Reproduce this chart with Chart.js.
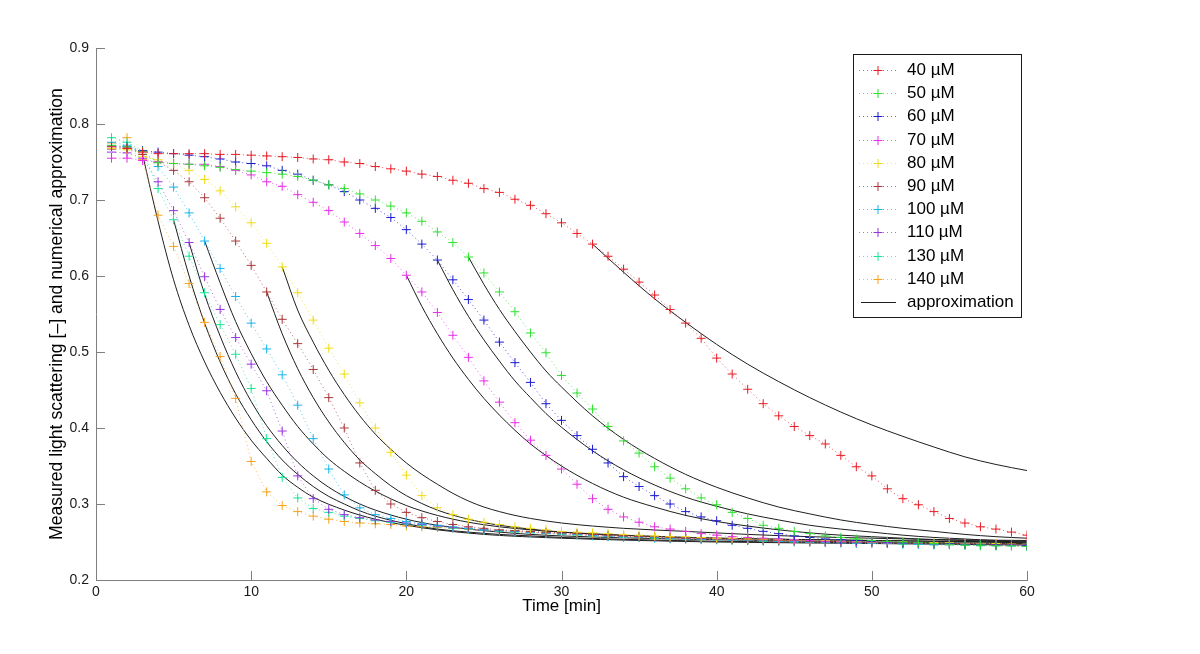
<!DOCTYPE html>
<html><head><meta charset="utf-8">
<script src="https://cdn.jsdelivr.net/npm/chart.js@4.4.1/dist/chart.umd.min.js"></script>
<style>html,body{margin:0;padding:0;background:#fff}#wrap{width:1200px;height:654px;position:relative}</style>
</head><body><div id="wrap"><canvas id="c" width="1200" height="654"></canvas></div>
<script>
const times = [1,2,3,4,5,6,7,8,9,10,11,12,13,14,15,16,17,18,19,20,21,22,23,24,25,26,27,28,29,30,31,32,33,34,35,36,37,38,39,40,41,42,43,44,45,46,47,48,49,50,51,52,53,54,55,56,57,58,59,60];
const seriesLabels = ['40 µM','50 µM','60 µM','70 µM','80 µM','90 µM','100 µM','110 µM','130 µM','140 µM'];
const approxLabel = 'approximation';
const xTicks = [0,10,20,30,40,50,60];
const yTicks = [0.2,0.3,0.4,0.5,0.6,0.7,0.8,0.9];

const s40 = [0.770,0.768,0.763,0.761,0.761,0.761,0.761,0.760,0.760,0.759,0.758,0.757,0.756,0.754,0.753,0.750,0.748,0.744,0.741,0.738,0.734,0.731,0.726,0.722,0.715,0.710,0.701,0.693,0.682,0.670,0.656,0.642,0.626,0.609,0.592,0.575,0.556,0.538,0.518,0.492,0.471,0.451,0.432,0.416,0.402,0.390,0.379,0.364,0.349,0.337,0.320,0.307,0.299,0.290,0.281,0.275,0.270,0.267,0.263,0.259];
const s50 = [0.772,0.770,0.764,0.749,0.748,0.747,0.745,0.743,0.740,0.738,0.736,0.734,0.731,0.726,0.720,0.715,0.708,0.700,0.692,0.683,0.672,0.658,0.644,0.625,0.604,0.579,0.553,0.525,0.499,0.469,0.446,0.425,0.402,0.383,0.367,0.349,0.334,0.320,0.308,0.299,0.289,0.281,0.272,0.268,0.264,0.261,0.258,0.256,0.254,0.252,0.251,0.250,0.249,0.248,0.247,0.246,0.246,0.245,0.245,0.244];
const s60 = [0.771,0.770,0.765,0.763,0.761,0.759,0.757,0.754,0.750,0.748,0.745,0.739,0.734,0.726,0.720,0.711,0.700,0.689,0.677,0.661,0.642,0.621,0.595,0.569,0.542,0.513,0.486,0.460,0.432,0.410,0.390,0.372,0.354,0.336,0.323,0.311,0.300,0.290,0.283,0.278,0.272,0.268,0.264,0.261,0.258,0.256,0.254,0.253,0.252,0.251,0.250,0.249,0.249,0.248,0.248,0.247,0.247,0.246,0.246,0.246];
const s70 = [0.755,0.755,0.752,0.750,0.748,0.747,0.747,0.744,0.739,0.733,0.724,0.718,0.707,0.697,0.686,0.671,0.656,0.640,0.623,0.601,0.579,0.552,0.522,0.493,0.462,0.434,0.407,0.384,0.364,0.346,0.326,0.307,0.293,0.283,0.276,0.270,0.267,0.264,0.261,0.259,0.257,0.256,0.255,0.254,0.253,0.252,0.251,0.251,0.250,0.250,0.249,0.249,0.248,0.248,0.247,0.247,0.247,0.246,0.246,0.246];
const s80 = [0.768,0.766,0.757,0.753,0.748,0.739,0.727,0.712,0.691,0.670,0.643,0.612,0.578,0.542,0.505,0.471,0.433,0.400,0.368,0.338,0.311,0.295,0.286,0.280,0.276,0.273,0.270,0.268,0.266,0.264,0.263,0.262,0.261,0.260,0.259,0.258,0.257,0.257,0.256,0.255,0.255,0.254,0.254,0.253,0.253,0.252,0.252,0.251,0.251,0.250,0.250,0.250,0.249,0.249,0.249,0.248,0.248,0.248,0.247,0.247];
const s90 = [0.767,0.768,0.760,0.750,0.739,0.724,0.703,0.676,0.646,0.614,0.579,0.543,0.511,0.477,0.440,0.400,0.354,0.318,0.300,0.289,0.282,0.277,0.273,0.270,0.268,0.266,0.265,0.264,0.263,0.262,0.261,0.260,0.259,0.258,0.257,0.257,0.256,0.255,0.255,0.254,0.254,0.253,0.253,0.252,0.252,0.251,0.251,0.250,0.250,0.250,0.249,0.249,0.249,0.248,0.248,0.248,0.247,0.247,0.247,0.246];
const s100 = [0.776,0.772,0.760,0.744,0.717,0.683,0.646,0.610,0.573,0.538,0.504,0.470,0.430,0.386,0.346,0.312,0.295,0.286,0.281,0.277,0.274,0.272,0.270,0.268,0.266,0.265,0.264,0.263,0.262,0.261,0.260,0.259,0.258,0.257,0.256,0.256,0.255,0.254,0.254,0.253,0.253,0.252,0.252,0.251,0.251,0.250,0.250,0.249,0.249,0.249,0.248,0.248,0.247,0.247,0.247,0.246,0.246,0.246,0.245,0.245];
const s110 = [0.763,0.762,0.755,0.724,0.686,0.644,0.599,0.556,0.519,0.484,0.449,0.396,0.337,0.307,0.293,0.286,0.282,0.279,0.277,0.275,0.273,0.271,0.269,0.268,0.266,0.265,0.264,0.263,0.262,0.261,0.260,0.259,0.258,0.257,0.257,0.256,0.255,0.255,0.254,0.254,0.253,0.253,0.252,0.252,0.251,0.251,0.250,0.250,0.249,0.249,0.249,0.248,0.248,0.247,0.247,0.247,0.246,0.246,0.246,0.245];
const s130 = [0.782,0.776,0.765,0.715,0.674,0.626,0.578,0.536,0.497,0.452,0.386,0.335,0.308,0.294,0.289,0.284,0.281,0.278,0.276,0.274,0.272,0.270,0.268,0.267,0.265,0.264,0.263,0.262,0.261,0.260,0.259,0.258,0.257,0.256,0.256,0.255,0.254,0.254,0.253,0.253,0.252,0.252,0.251,0.251,0.250,0.250,0.249,0.249,0.248,0.248,0.248,0.247,0.247,0.246,0.246,0.246,0.245,0.245,0.245,0.244];
const s140 = [0.775,0.782,0.753,0.680,0.639,0.590,0.539,0.494,0.439,0.356,0.316,0.298,0.290,0.284,0.280,0.277,0.275,0.274,0.273,0.271,0.270,0.269,0.268,0.267,0.266,0.265,0.264,0.263,0.262,0.261,0.260,0.259,0.258,0.258,0.257,0.256,0.256,0.255,0.255,0.254,0.254,0.253,0.253,0.252,0.252,0.252,0.251,0.251,0.250,0.250,0.250,0.249,0.249,0.249,0.248,0.248,0.248,0.247,0.247,0.247];

const a40t = [32,34,36,38,40,42,44,46,48,50,52,54,56,58,60];
const a40v = [0.642,0.605,0.570,0.539,0.510,0.484,0.461,0.440,0.421,0.404,0.389,0.375,0.362,0.352,0.344];
const a50t = [24,25,26,27,28,29,30,32,34,36,38,40,42,44,46,48,50,52,54,56,58,60];
const a50v = [0.625,0.589,0.556,0.527,0.500,0.475,0.454,0.416,0.385,0.360,0.339,0.322,0.308,0.296,0.287,0.279,0.273,0.268,0.264,0.260,0.257,0.255];
const a60t = [22,23,24,25,26,27,28,29,30,32,34,36,38,40,42,44,46,48,50,52,54,56,58,60];
const a60v = [0.621,0.582,0.547,0.516,0.488,0.462,0.440,0.419,0.401,0.370,0.345,0.325,0.309,0.297,0.287,0.279,0.272,0.267,0.263,0.259,0.256,0.254,0.252,0.251];
const a70t = [20,21,22,23,24,25,26,27,28,30,32,34,36,38,40,42,44,46,48,50,52,54,56,58,60];
const a70v = [0.601,0.560,0.524,0.492,0.464,0.439,0.417,0.397,0.379,0.350,0.327,0.309,0.296,0.285,0.277,0.271,0.266,0.262,0.259,0.257,0.255,0.253,0.252,0.251,0.250];
const a80t = [12,13,14,15,16,17,18,19,20,21,22,23,24,25,26,27,28,30,34,38,42,46,50,55,60];
const a80v = [0.612,0.555,0.513,0.476,0.444,0.416,0.392,0.372,0.354,0.339,0.326,0.314,0.304,0.296,0.290,0.285,0.281,0.275,0.268,0.264,0.260,0.257,0.255,0.253,0.252];
const a90t = [11,12,13,14,15,16,17,18,19,20,22,24,26,28,30,35,40,50,60];
const a90v = [0.579,0.524,0.478,0.440,0.408,0.381,0.358,0.340,0.324,0.311,0.292,0.280,0.272,0.267,0.263,0.258,0.255,0.252,0.250];
const a100t = [7,8,9,10,11,12,13,14,15,16,17,18,20,22,24,26,28,30,35,40,50,60];
const a100v = [0.646,0.591,0.540,0.498,0.461,0.430,0.402,0.379,0.359,0.343,0.329,0.317,0.298,0.285,0.276,0.270,0.266,0.263,0.258,0.255,0.252,0.249];
const a110t = [6,7,8,9,10,11,12,13,14,15,16,17,18,20,22,24,26,28,30,35,40,50,60];
const a110v = [0.644,0.576,0.521,0.474,0.435,0.403,0.377,0.355,0.337,0.322,0.310,0.300,0.292,0.280,0.272,0.267,0.263,0.260,0.258,0.255,0.253,0.250,0.248];
const a130t = [5,6,7,8,9,10,11,12,13,14,15,16,17,18,20,22,24,26,28,30,35,40,50,60];
const a130v = [0.674,0.600,0.538,0.487,0.445,0.411,0.382,0.358,0.339,0.323,0.310,0.300,0.291,0.284,0.274,0.267,0.263,0.260,0.258,0.256,0.253,0.251,0.249,0.247];
const a140t = [3,4,5,6,7,8,9,10,11,12,13,14,16,18,20,22,25,30,35,40,50,60];
const a140v = [0.760,0.672,0.595,0.535,0.487,0.447,0.413,0.384,0.360,0.338,0.322,0.309,0.292,0.280,0.272,0.266,0.260,0.255,0.252,0.250,0.248,0.246];

const seriesValues = [s40,s50,s60,s70,s80,s90,s100,s110,s130,s140];
const approxTimes = [a40t,a50t,a60t,a70t,a80t,a90t,a100t,a110t,a130t,a140t];
const approxValues = [a40v,a50v,a60v,a70v,a80v,a90v,a100v,a110v,a130v,a140v];
const colors = ['#e81c24','#2ee02e','#1c1cd0','#e62ee6','#f0dc14','#a8383a','#1ab4ea','#9a34e0','#18e696','#f5a21e'];

const FONT = "'Liberation Sans', Arial, Helvetica, sans-serif";
Chart.defaults.font.family = FONT;

const datasets = [];
seriesValues.forEach((vals, i) => {
  datasets.push({
    label: seriesLabels[i],
    data: times.map((t, j) => ({x: t, y: vals[j]})),
    borderColor: colors[i] + 'bb',
    borderWidth: 1,
    borderDash: [1, 3],
    pointStyle: 'cross',
    pointRadius: 4.5,
    pointBorderWidth: 1,
    pointBorderColor: colors[i],
    pointBackgroundColor: colors[i],
    showLine: true,
    tension: 0
  });
});
approxValues.forEach((vals, i) => {
  datasets.push({
    label: approxLabel,
    data: approxTimes[i].map((t, j) => ({x: t, y: vals[j]})),
    borderColor: '#1e1e1e',
    borderWidth: 1,
    pointRadius: 0,
    cubicInterpolationMode: 'monotone',
    showLine: true
  });
});

const innerTicks = {
  id: 'innerTicks',
  afterDraw(chart) {
    const {ctx, chartArea: a, scales: {x, y}} = chart;
    ctx.save();
    ctx.strokeStyle = '#7f7f7f';
    ctx.lineWidth = 1;
    xTicks.forEach(v => {
      const px = Math.round(x.getPixelForValue(v)) + 0.5;
      ctx.beginPath(); ctx.moveTo(px, a.bottom); ctx.lineTo(px, a.bottom - 9); ctx.stroke();
    });
    yTicks.forEach(v => {
      const py = Math.round(y.getPixelForValue(v)) + 0.5;
      ctx.beginPath(); ctx.moveTo(a.left, py); ctx.lineTo(a.left + 9, py); ctx.stroke();
    });
    ctx.restore();
  }
};

const boxLegend = {
  id: 'boxLegend',
  afterDraw(chart) {
    const {ctx, chartArea: a} = chart;
    const right = a.right - 6, top = a.top + 6;
    const w = 168, rowH = 23.2, h = 263;
    const left = right - w;
    ctx.save();
    ctx.fillStyle = '#fff';
    ctx.fillRect(left, top, w, h);
    ctx.strokeStyle = '#1a1a1a';
    ctx.lineWidth = 1;
    ctx.strokeRect(Math.round(left) + 0.5, Math.round(top) + 0.5, w, h);
    ctx.font = '17px ' + FONT;
    ctx.textBaseline = 'middle';
    ctx.fillStyle = '#000';
    const entries = seriesLabels.length + 1;
    for (let i = 0; i < entries; i++) {
      const cy = Math.round(top + 16 + i * rowH) + 0.5;
      const x0 = left + 6, x1 = left + 43, mx = left + 25;
      ctx.beginPath();
      if (i < seriesLabels.length) {
        ctx.strokeStyle = colors[i] + 'bb';
        ctx.setLineDash([1, 3]);
        ctx.moveTo(x0, cy); ctx.lineTo(x1, cy); ctx.stroke();
        ctx.setLineDash([]);
        ctx.strokeStyle = colors[i];
        ctx.beginPath();
        ctx.moveTo(mx - 4.5, cy); ctx.lineTo(mx + 4.5, cy);
        ctx.moveTo(mx, cy - 4.5); ctx.lineTo(mx, cy + 4.5);
        ctx.stroke();
        ctx.fillText(seriesLabels[i], left + 54, cy);
      } else {
        ctx.strokeStyle = '#1e1e1e';
        ctx.moveTo(x0 + 2, cy); ctx.lineTo(x1, cy); ctx.stroke();
        ctx.fillText(approxLabel, left + 54, cy);
      }
    }
    ctx.restore();
  }
};

new Chart(document.getElementById('c'), {
  type: 'line',
  data: {datasets},
  options: {
    responsive: false,
    animation: false,
    devicePixelRatio: 1,
    layout: {padding: {left: 0, top: 48, right: 173, bottom: 0}},
    plugins: {legend: {display: false}, tooltip: {enabled: false}},
    scales: {
      x: {
        type: 'linear', min: 0, max: 60,
        afterBuildTicks: s => { s.ticks = xTicks.map(v => ({value: v})); },
        afterFit: s => { s.height = 74; },
        ticks: {color: '#1a1a1a', font: {size: 14}, padding: 4, callback: v => String(v), maxRotation: 0},
        grid: {display: false, drawTicks: false},
        border: {display: true, color: '#7f7f7f', width: 1},
        title: {display: true, text: 'Time [min]', color: '#000', font: {size: 17}, padding: {top: 0, bottom: 37}}
      },
      y: {
        type: 'linear', min: 0.2, max: 0.9,
        afterBuildTicks: s => { s.ticks = yTicks.map(v => ({value: v})); },
        afterFit: s => { s.width = 96; },
        ticks: {color: '#1a1a1a', font: {size: 14}, padding: 7, callback: v => v.toFixed(1)},
        grid: {display: false, drawTicks: false},
        border: {display: true, color: '#7f7f7f', width: 1},
        title: {display: true, text: 'Measured light scattering [–] and numerical approximation', color: '#000', font: {size: 17.6}, padding: {top: 46.5, bottom: 0}}
      }
    }
  },
  plugins: [innerTicks, boxLegend]
});
</script></body></html>
